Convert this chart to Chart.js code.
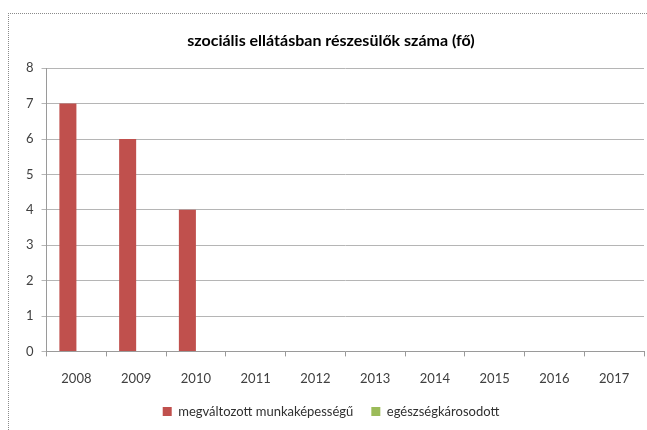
<!DOCTYPE html>
<html>
<head>
<meta charset="utf-8">
<script src="https://cdn.jsdelivr.net/npm/chart.js@4"></script>
<style>
    body { margin: 0; background: #fff; }
    #wrap { position: relative; width: 647px; height: 430px; }
    #frame {
        position: absolute; left: 8px; top: 13px; right: 0; bottom: 0;
        border-left: 1px dotted #8a8a8a; border-top: 1px dotted #8a8a8a;
    }
    canvas { position: absolute; left: 0; top: 0; }
</style>
</head>
<body>
<div id="wrap">
    <div id="frame"></div>
    <canvas id="chart" width="647" height="430"></canvas>
</div>
<script>
const years = ['2008', '2009', '2010', '2011', '2012', '2013', '2014', '2015', '2016', '2017'];
const megvaltozott = [7, 6, 4, 0, 0, 0, 0, 0, 0, 0];
const egeszsegkarosodott = [0, 0, 0, 0, 0, 0, 0, 0, 0, 0];
const yTicks = [0, 1, 2, 3, 4, 5, 6, 7, 8];

document.addEventListener("DOMContentLoaded", () => {
    const ctx = document.getElementById('chart').getContext('2d');
    Chart.defaults.font.family = 'Lato, "Open Sans", sans-serif';
    Chart.defaults.color = '#404040';

    new Chart(ctx, {
        type: 'bar',
        data: {
            labels: years,
            datasets: [{
                label: 'megváltozott munkaképességű',
                data: megvaltozott,
                backgroundColor: '#C0504D',
                borderWidth: 0
            }, {
                label: 'egészségkárosodott',
                data: egeszsegkarosodott,
                backgroundColor: '#9BBB59',
                borderWidth: 0
            }]
        },
        options: {
            responsive: false,
            animation: false,
            categoryPercentage: 0.57,
            barPercentage: 1,
            layout: { padding: { left: 18, right: 3, top: 0, bottom: 2 } },
            plugins: {
                title: {
                    display: true,
                    text: 'szociális ellátásban részesülők száma (fő)',
                    color: '#000',
                    font: { size: 16, weight: 'bold' },
                    padding: { top: 31, bottom: 18 }
                },
                legend: {
                    position: 'bottom',
                    labels: {
                        boxWidth: 9,
                        boxHeight: 9,
                        font: { size: 13 },
                        color: '#303030',
                        padding: 18
                    }
                },
                tooltip: { enabled: false }
            },
            scales: {
                x: {
                    afterFit: axis => { axis.height -= 15; },//labels may run into the legend's empty top padding
                    grid: {
                        display: true,
                        drawOnChartArea: false,
                        offset: true,
                        tickLength: 5,
                        color: '#9a9a9a'
                    },
                    border: { color: '#9a9a9a' },
                    ticks: { font: { size: 13 }, padding: 15 }
                },
                y: {
                    min: 0,
                    max: 8,
                    afterBuildTicks: axis => { axis.ticks = yTicks.map(v => ({ value: v })); },
                    grid: { color: '#b5b5b5', tickLength: 5 },
                    border: { color: '#9a9a9a' },
                    ticks: { font: { size: 13 }, padding: 8 }
                }
            }
        }
    });
});
</script>
</body>
</html>
